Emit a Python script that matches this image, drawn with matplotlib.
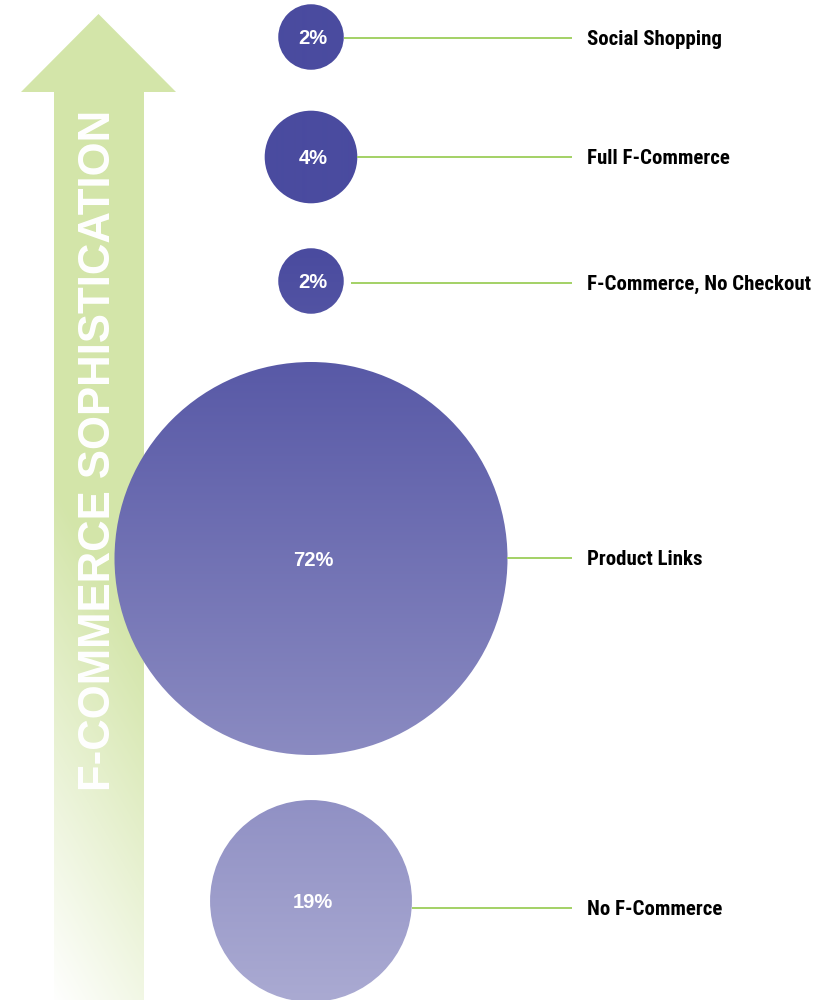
import numpy as np
import matplotlib
matplotlib.use("Agg")
import matplotlib.pyplot as plt
from matplotlib.patches import Circle, Polygon

# data
categories = ["Social Shopping", "Full F-Commerce", "F-Commerce, No Checkout",
              "Product Links", "No F-Commerce"]
shares = [2, 4, 2, 72, 19]
axis_title = "F-COMMERCE SOPHISTICATION"

# layout (pixel space, y down)
W, H = 833, 1000
cx = 311
cy = [37, 157, 281, 558.5, 901]
line_y = [38, 157, 283, 558, 908]
line_gap = [0, 0, 7, 0, 0]
line_end = 572
label_x = 587
k = 196.5 / np.sqrt(72)          # radius scale: area proportional to share

DARK = np.array([74, 75, 159]) / 255
LIGHT = np.array([170, 170, 210]) / 255
GREEN = np.array([211, 229, 169]) / 255
LINE_GREEN = "#a3d165"
COND = ["Roboto Condensed", "Barlow Semi Condensed", "DejaVu Sans"]

fig = plt.figure(figsize=(W / 100, H / 100), dpi=100)
ax = fig.add_axes([0, 0, 1, 1])
ax.set_xlim(0, W)
ax.set_ylim(H, 0)
ax.axis("off")

# arrow with green -> white gradient (fades down and to the left)
arrow_pts = [(98.5, 14), (176, 92), (144, 92), (144, H), (54, H), (54, 92), (21, 92)]
arrow = Polygon(arrow_pts, closed=True, facecolor="none", edgecolor="none")
ax.add_patch(arrow)
yy, xx = np.mgrid[0:H, 0:W]
t = np.clip((yy - 640) / 520 + (144 - xx) / 90 * 0.3, 0, 1)
grad = GREEN[None, None, :] * (1 - t[..., None]) + np.ones(3)[None, None, :] * t[..., None]
im = ax.imshow(grad, extent=(0, W, H, 0), zorder=1, interpolation="bilinear")
im.set_clip_path(arrow)

ax.text(99, 450, axis_title, rotation=90, ha="center", va="center", color="white",
        fontsize=31.5, weight="bold", family=["Liberation Sans", "DejaVu Sans"], zorder=3)

# circles share one vertical gradient
ty = np.clip((np.arange(H) - 250) / 750, 0, 1)
cgrad = DARK[None, :] * (1 - ty[:, None]) + LIGHT[None, :] * ty[:, None]
cgrad = np.repeat(cgrad[:, None, :], 2, axis=1)

for i, (cat, v) in enumerate(zip(categories, shares)):
    r = k * np.sqrt(v)
    c = Circle((cx, cy[i]), r, facecolor="none", edgecolor="none")
    ax.add_patch(c)
    ci = ax.imshow(cgrad, extent=(0, W, H, 0), aspect="auto", zorder=2, interpolation="bilinear")
    ci.set_clip_path(c)
    ax.text(cx + 2, cy[i] + 1.5, f"{v}%", ha="center", va="center", color="white",
            fontsize=14.5, weight="bold", family=["Liberation Sans", "DejaVu Sans"], zorder=4)
    ax.plot([cx + r + line_gap[i], line_end], [line_y[i], line_y[i]], color=LINE_GREEN,
            lw=1.4, zorder=2, solid_capstyle="butt")
    ax.text(label_x, line_y[i] + 1.5, cat, ha="left", va="center", color="black",
            fontsize=15, weight="bold", fontstretch="condensed", family=COND, zorder=4)

ax.set_xlim(0, W)
ax.set_ylim(H, 0)
fig.savefig("out.png", dpi=100)
